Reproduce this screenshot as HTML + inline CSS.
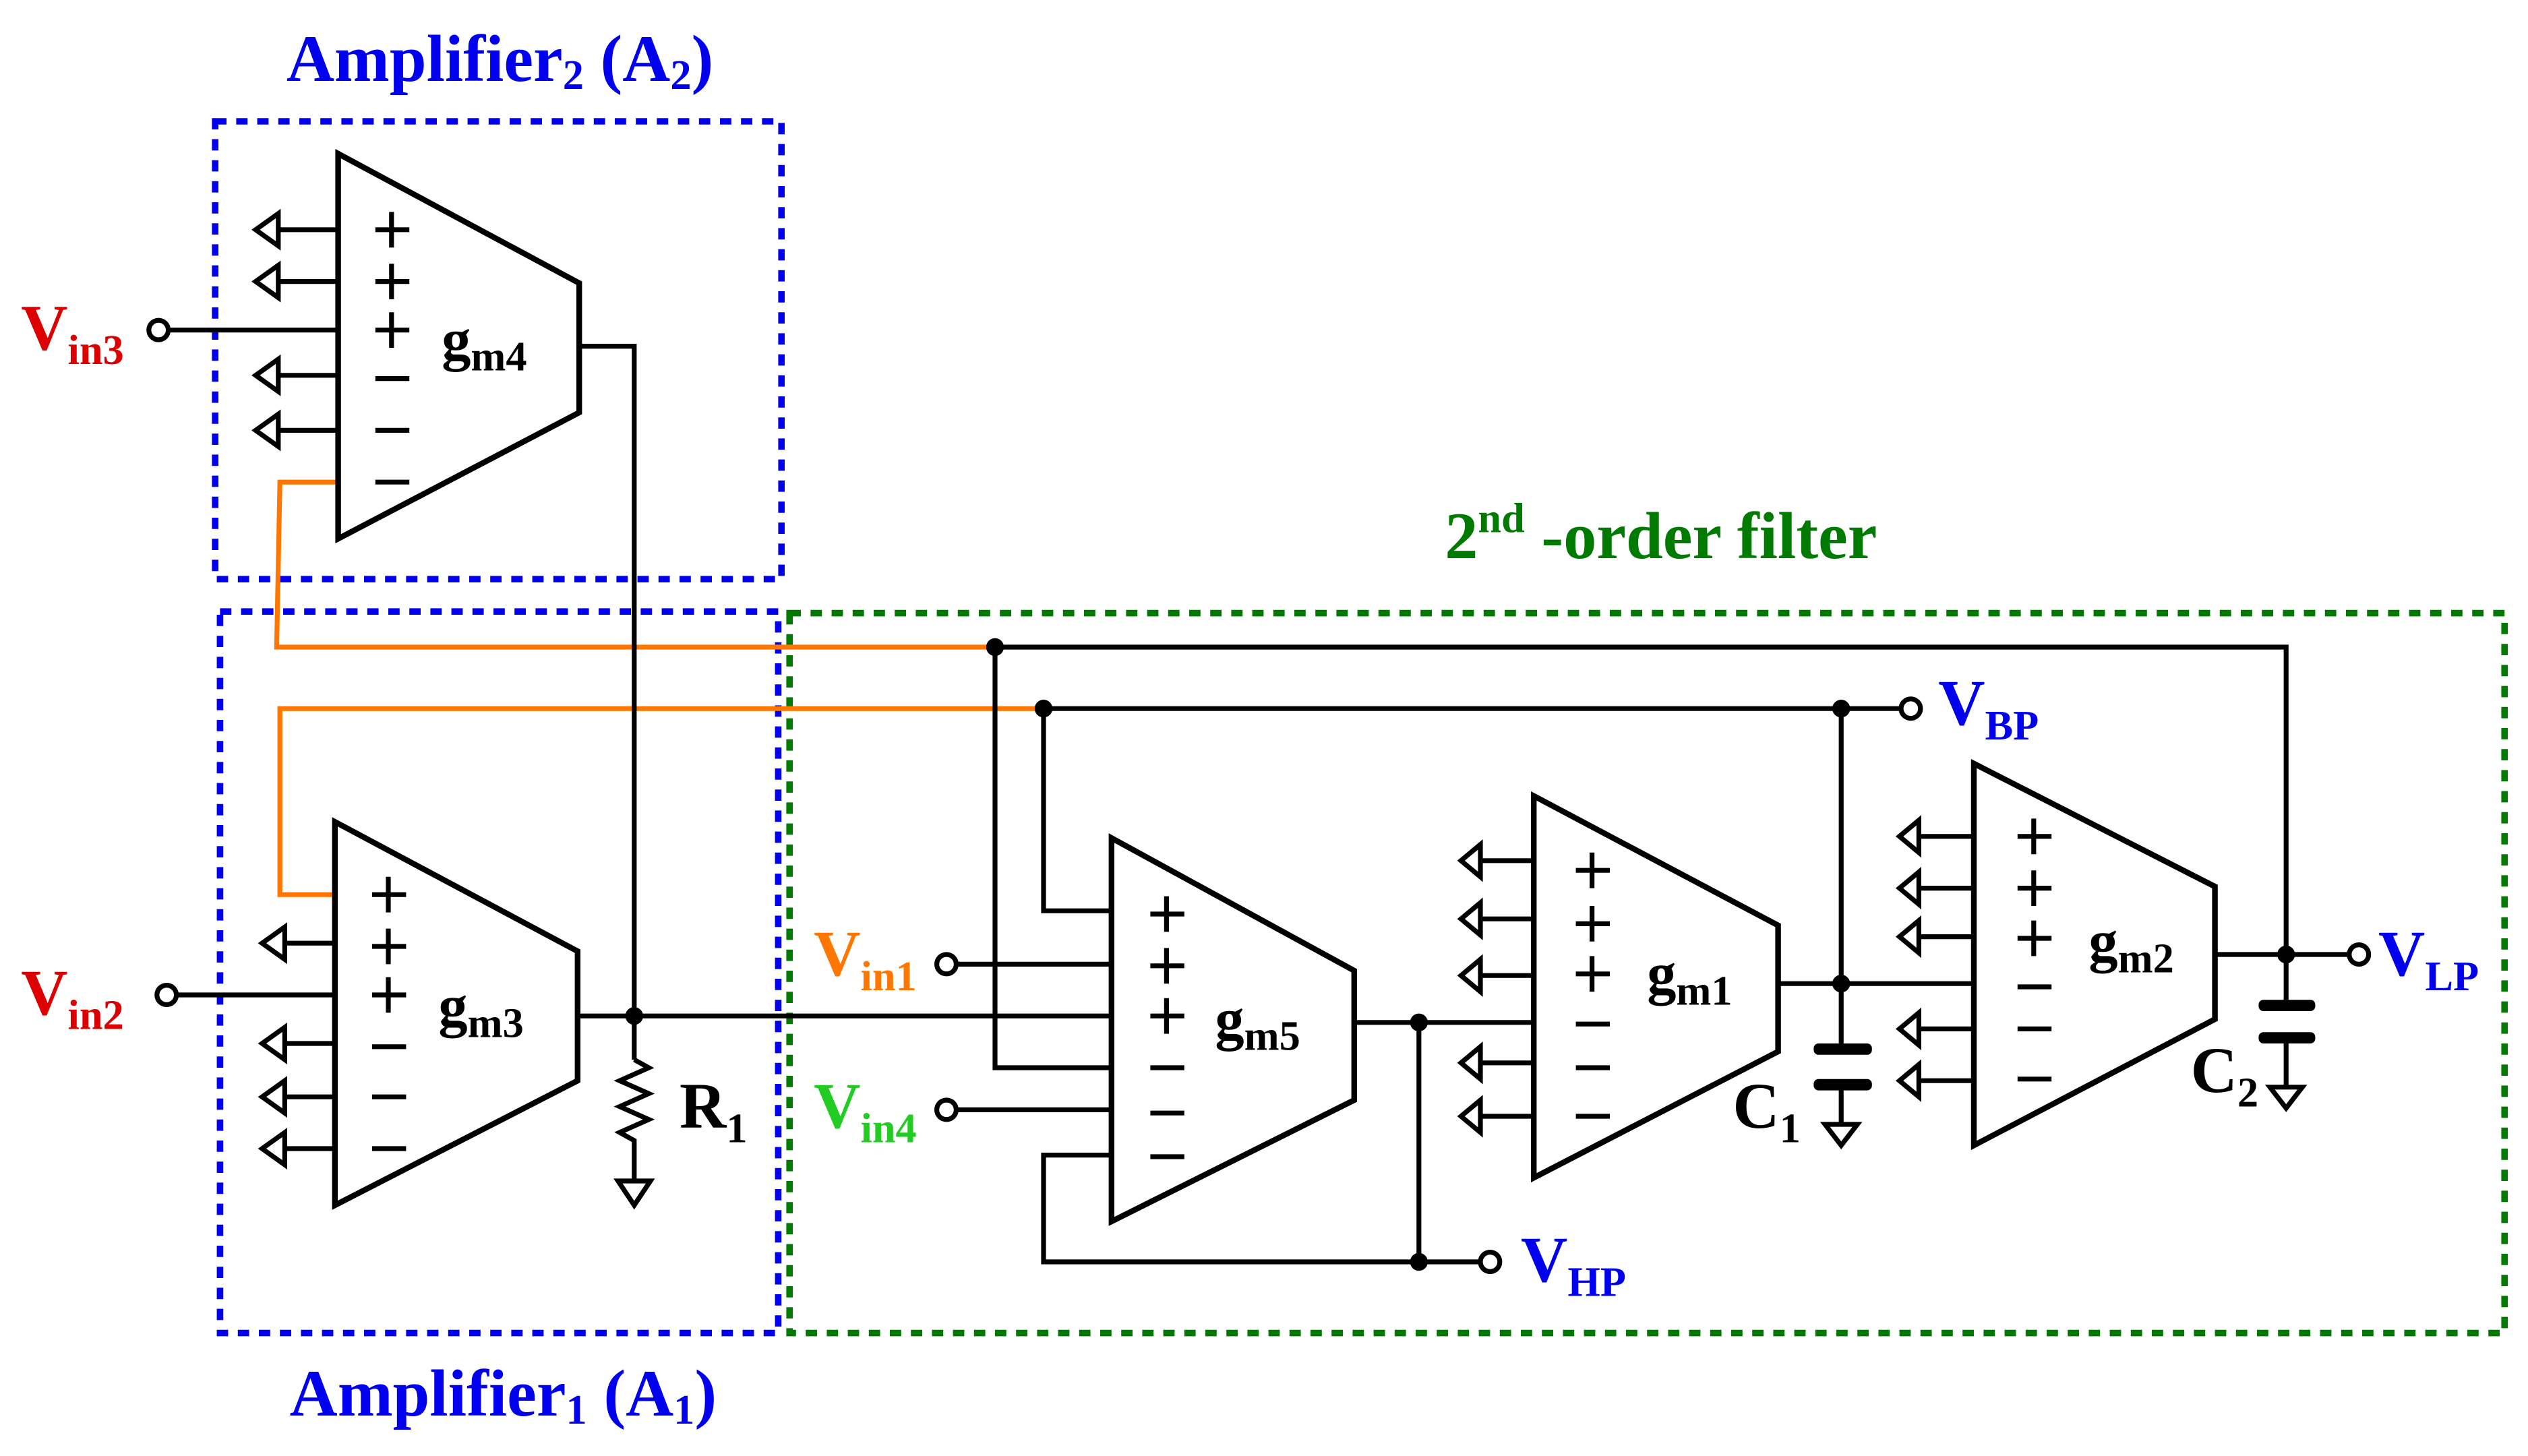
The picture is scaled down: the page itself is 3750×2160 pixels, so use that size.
<!DOCTYPE html>
<html><head><meta charset="utf-8"><style>
html,body{margin:0;padding:0;background:#fff}
svg{display:block}
text{font-family:"Liberation Serif",serif;font-weight:bold}
</style></head><body>
<svg width="3750" height="2160" viewBox="0 0 1562.5 900" preserveAspectRatio="none" xmlns="http://www.w3.org/2000/svg">
<g fill="none" stroke-width="4" stroke-dasharray="7 6">
<rect x="133" y="75" width="350" height="283" stroke="#0000ee"/>
<rect x="136" y="378" width="345" height="446" stroke="#0000ee"/>
<rect x="488" y="379" width="1060" height="445" stroke="#007a00"/>
</g>
<text x="309" y="50" font-size="41" fill="#0000ee" text-anchor="middle">Amplifier<tspan font-size="26" dy="5">2</tspan><tspan dy="-5"> (A</tspan><tspan font-size="26" dy="5">2</tspan><tspan dy="-5">)</tspan></text>
<text x="311" y="875" font-size="41" fill="#0000ee" text-anchor="middle">Amplifier<tspan font-size="26" dy="5">1</tspan><tspan dy="-5"> (A</tspan><tspan font-size="26" dy="5">1</tspan><tspan dy="-5">)</tspan></text>
<text x="893" y="345" font-size="41" fill="#007a00">2<tspan font-size="26" dy="-16">nd</tspan><tspan dy="16"> -order filter</tspan></text>

<g fill="none" stroke="#ff7700" stroke-width="3">
<polyline points="209,298 173,298 171,400 615,400"/>
<polyline points="645,438 173,438 173,553 207,553"/>
</g>

<g fill="none" stroke="#000" stroke-width="3">
<polygon points="209,95 358,175 358,255 209,333" stroke-width="3.5"/>
<polygon points="207,508 357,588 357,668 207,745" stroke-width="3.5"/>
<polygon points="687,518 837,600 837,680 687,755" stroke-width="3.5"/>
<polygon points="948,492 1099,572 1099,650 948,728" stroke-width="3.5"/>
<polygon points="1220,472 1369,548 1369,630 1220,708" stroke-width="3.5"/>
<polyline points="358,214 392,214 392,655"/>
<line x1="110" y1="615" x2="207" y2="615"/>
<line x1="105" y1="204" x2="209" y2="204"/>
<line x1="357" y1="628" x2="687" y2="628"/>
<polyline points="615,400 1413,400 1413,622"/>
<polyline points="615,400 615,660 687,660"/>
<polyline points="645,438 1174,438"/>
<polyline points="645,438 645,563 687,563"/>
<line x1="592" y1="596" x2="687" y2="596"/>
<line x1="592" y1="686" x2="687" y2="686"/>
<polyline points="687,714 645,714 645,780 914,780"/>
<polyline points="837,632 948,632"/>
<line x1="877" y1="632" x2="877" y2="780"/>
<line x1="1099" y1="608" x2="1220" y2="608"/>
<line x1="1138" y1="438" x2="1138" y2="648"/>
<line x1="1138" y1="670" x2="1138" y2="695"/>
<line x1="1369" y1="590" x2="1451" y2="590"/>
<line x1="1413" y1="642" x2="1413" y2="672"/>
<polyline points="392,655 401,660 383,668 401,676 383,684 401,692 383,700 392,705 392,730"/>
<polygon points="382,730 402,730 392,745" fill="#fff"/>
<polygon points="1128,695 1148,695 1138,708" fill="#fff"/>
<polygon points="1403,672 1423,672 1413,685" fill="#fff"/>
<circle cx="98" cy="204" r="6" fill="#fff"/>
<circle cx="103" cy="615" r="6" fill="#fff"/>
<circle cx="585" cy="596" r="6" fill="#fff"/>
<circle cx="585" cy="686" r="6" fill="#fff"/>
<circle cx="921" cy="780" r="6" fill="#fff"/>
<circle cx="1181" cy="438" r="6" fill="#fff"/>
<circle cx="1458" cy="590" r="6" fill="#fff"/>
<path d="M172,142H209M172,132L158,142L172,152Z M172,174H209M172,164L158,174L172,184Z M172,232H209M172,222L158,232L172,242Z M172,266H209M172,256L158,266L172,276Z" fill="#fff"/>
<path d="M176,583H207M176,573L162,583L176,593Z M176,645H207M176,635L162,645L176,655Z M176,678H207M176,668L162,678L176,688Z M176,710H207M176,700L162,710L176,720Z" fill="#fff"/>
<path d="M915,532H948M915,522L903,532L915,542Z M915,568H948M915,558L903,568L915,578Z M915,603H948M915,593L903,603L915,613Z M915,657H948M915,647L903,657L915,667Z M915,690H948M915,680L903,690L915,700Z" fill="#fff"/>
<path d="M1186,517H1220M1186,507L1174,517L1186,527Z M1186,549H1220M1186,539L1174,549L1186,559Z M1186,579H1220M1186,569L1174,579L1186,589Z M1186,636H1220M1186,626L1174,636L1186,646Z M1186,668H1220M1186,658L1174,668L1186,678Z" fill="#fff"/>
<path d="M232,142h21M242,131v22 M232,174h21M242,163v22 M232,204h21M242,193v22 M232,234h21 M232,266h21 M232,298h21"/>
<path d="M230,553h21M240,542v22 M230,585h21M240,574v22 M230,615h21M240,604v22 M230,647h21 M230,678h21 M230,710h21"/>
<path d="M711,565h21M721,554v22 M711,597h21M721,586v22 M711,628h21M721,617v22 M711,660h21 M711,688h21 M711,715h21"/>
<path d="M974,538h21M984,527v22 M974,571h21M984,560v22 M974,602h21M984,591v22 M974,633h21 M974,660h21 M974,690h21"/>
<path d="M1247,517h21M1257,506v22 M1247,549h21M1257,538v22 M1247,580h21M1257,569v22 M1247,610h21 M1247,636h21 M1247,667h21"/>
</g>
<g fill="#000">
<rect x="1121" y="645" width="36" height="7" rx="3"/>
<rect x="1121" y="667" width="36" height="7" rx="3"/>
<rect x="1396" y="618" width="35" height="7" rx="3"/>
<rect x="1396" y="638" width="35" height="7" rx="3"/>
<circle cx="392" cy="628" r="5.5"/>
<circle cx="615" cy="400" r="5.5"/>
<circle cx="645" cy="438" r="5.5"/>
<circle cx="1138" cy="438" r="5.5"/>
<circle cx="877" cy="632" r="5.5"/>
<circle cx="877" cy="780" r="5.5"/>
<circle cx="1138" cy="608" r="5.5"/>
<circle cx="1413" cy="590" r="5.5"/>
</g>
<g font-size="40">
<text x="13" y="216" fill="#dd0000">V<tspan font-size="26" dy="9">in3</tspan></text>
<text x="13" y="627" fill="#dd0000">V<tspan font-size="26" dy="9">in2</tspan></text>
<text x="503" y="603" fill="#ff7700">V<tspan font-size="26" dy="9">in1</tspan></text>
<text x="503" y="697" fill="#22cc22">V<tspan font-size="26" dy="9">in4</tspan></text>
<text x="940" y="792" fill="#0000ee">V<tspan font-size="26" dy="9">HP</tspan></text>
<text x="1198" y="448" fill="#0000ee">V<tspan font-size="26" dy="9">BP</tspan></text>
<text x="1470" y="603" fill="#0000ee">V<tspan font-size="26" dy="9">LP</tspan></text>
<text x="420" y="697" fill="#000">R<tspan font-size="26" dy="9">1</tspan></text>
<text x="1071" y="697" fill="#000">C<tspan font-size="26" dy="9">1</tspan></text>
<text x="1354" y="675" fill="#000">C<tspan font-size="26" dy="9">2</tspan></text>
</g>
<g font-size="36" fill="#000">
<text x="273" y="222">g<tspan font-size="26" dy="7">m4</tspan></text>
<text x="271" y="634">g<tspan font-size="26" dy="7">m3</tspan></text>
<text x="751" y="642">g<tspan font-size="26" dy="7">m5</tspan></text>
<text x="1018" y="614">g<tspan font-size="26" dy="7">m1</tspan></text>
<text x="1291" y="594">g<tspan font-size="26" dy="7">m2</tspan></text>
</g>
</svg>
</body></html>
